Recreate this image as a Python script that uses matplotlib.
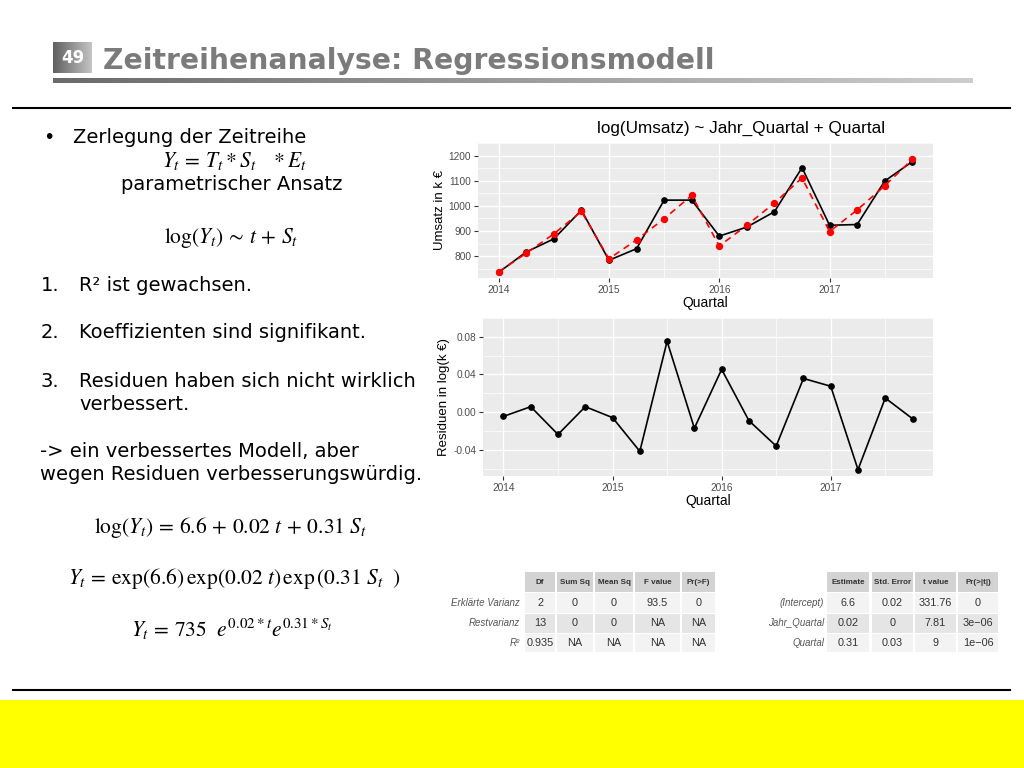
import numpy as np
import matplotlib
matplotlib.use("Agg")
import matplotlib.pyplot as plt
from matplotlib.patches import Rectangle
from matplotlib.lines import Line2D
from matplotlib.colors import LinearSegmentedColormap

# ---------------- data ----------------
time = [2014.00, 2014.25, 2014.50, 2014.75, 2015.00, 2015.25, 2015.50, 2015.75,
        2016.00, 2016.25, 2016.50, 2016.75, 2017.00, 2017.25, 2017.50, 2017.75]
umsatz = [736, 817, 869, 983, 784, 830, 1023, 1023, 880, 916, 977, 1152, 923, 926, 1099, 1176]
fitted = [738, 812, 889, 978, 790, 865, 949, 1042, 841, 923, 1012, 1111, 898, 984, 1080, 1185]
residuen = [-0.0045, 0.0058, -0.0237, 0.0058, -0.0058, -0.0416, 0.0752, -0.0170,
            0.0454, -0.0090, -0.0360, 0.0358, 0.0275, -0.0610, 0.0150, -0.0070]
year_ticks = [2014, 2015, 2016, 2017]
umsatz_ticks = [800, 900, 1000, 1100, 1200]
resid_ticks = [-0.04, 0.00, 0.04, 0.08]

anova_cols = ["Df", "Sum Sq", "Mean Sq", "F value", "Pr(>F)"]
anova_rows = ["Erklärte Varianz", "Restvarianz", "R²"]
anova_vals = [["2", "0", "0", "93.5", "0"],
              ["13", "0", "0", "NA", "NA"],
              ["0.935", "NA", "NA", "NA", "NA"]]
coef_cols = ["Estimate", "Std. Error", "t value", "Pr(>|t|)"]
coef_rows = ["(Intercept)", "Jahr_Quartal", "Quartal"]
coef_vals = [["6.6", "0.02", "331.76", "0"],
             ["0.02", "0", "7.81", "3e\u221206"],
             ["0.31", "0.03", "9", "1e\u221206"]]

# ---------------- setup ----------------
plt.rcParams['font.family'] = ['DejaVu Sans']
plt.rcParams['mathtext.fontset'] = 'stix'
W, H = 1024, 768
fig = plt.figure(figsize=(10.24, 7.68), dpi=100)
fig.patch.set_facecolor('white')


def fx(x):
    return x / W


def fy(y):
    return 1 - y / H


def box_axes(x0, y0, x1, y1):
    return fig.add_axes([fx(x0), fy(y1), (x1 - x0) / W, (y1 - y0) / H])


# ---------------- header ----------------
cm_box = LinearSegmentedColormap.from_list('b', ['#606060', '#c4c4c4'])
axb = box_axes(53, 42, 92, 73)
axb.imshow(np.linspace(0, 1, 100).reshape(1, -1), aspect='auto', cmap=cm_box,
           extent=[0, 1, 0, 1])
axb.axis('off')
fig.text(fx(72.5), fy(58), "49", color='white', fontsize=12, fontweight='bold',
         ha='center', va='center')
fig.text(fx(103), fy(69), "Zeitreihenanalyse: Regressionsmodell", color='#7b7b7b',
         fontsize=20.3, fontweight='bold', ha='left', va='baseline')
cm_bar = LinearSegmentedColormap.from_list('g', ['#6a6a6a', '#cdcdcd'])
axg = box_axes(53, 77.5, 973, 83.5)
axg.imshow(np.linspace(0, 1, 200).reshape(1, -1), aspect='auto', cmap=cm_bar,
           extent=[0, 1, 0, 1])
axg.axis('off')

fig.add_artist(Line2D([fx(13), fx(1010)], [fy(108), fy(108)], color='black', lw=1.5))
fig.add_artist(Line2D([fx(13), fx(1010)], [fy(690), fy(690)], color='black', lw=1.5))
fig.add_artist(Rectangle((0, 0), 1, fy(700), transform=fig.transFigure,
                         facecolor='#ffff00', edgecolor='none'))

# ---------------- left text ----------------
TS = 14
MS = 15.5
fig.text(fx(43), fy(143), "•", fontsize=TS, va='baseline')
fig.text(fx(73), fy(143), "Zerlegung der Zeitreihe", fontsize=TS, va='baseline')
fig.text(fx(235), fy(167), r"$Y_t\, =\, T_t * S_t\ \ \ * E_t$", fontsize=MS,
         ha='center', va='baseline')
fig.text(fx(231.5), fy(190), "parametrischer Ansatz", fontsize=TS, ha='center',
         va='baseline')
fig.text(fx(231), fy(243), r"$\log(Y_t)\, \sim\, t\, +\, S_t$", fontsize=MS,
         ha='center', va='baseline')
items = [("1.", "R² ist gewachsen.", 291),
         ("2.", "Koeffizienten sind signifikant.", 338),
         ("3.", "Residuen haben sich nicht wirklich", 387)]
for num, txt, yb in items:
    fig.text(fx(41), fy(yb), num, fontsize=TS, va='baseline')
    fig.text(fx(79), fy(yb), txt, fontsize=TS, va='baseline')
fig.text(fx(79), fy(410), "verbessert.", fontsize=TS, va='baseline')
fig.text(fx(40), fy(457), "-> ein verbessertes Modell, aber", fontsize=TS, va='baseline')
fig.text(fx(40), fy(480), "wegen Residuen verbesserungswürdig.", fontsize=TS,
         va='baseline')
fig.text(fx(230.5), fy(533),
         r"$\log(Y_t)\, =\, 6.6\, +\, 0.02\ t\, +\, 0.31\ S_t$", fontsize=MS,
         ha='center', va='baseline')
fig.text(fx(234), fy(584),
         r"$Y_t\, =\, \exp(6.6)\,\exp(0.02\ t)\,\exp\left(0.31\ S_t\ \ \right)$",
         fontsize=MS, ha='center', va='baseline')
fig.text(fx(231.5), fy(637), r"$Y_t\, =\, 735\ \ e^{0.02 * t}e^{0.31 * S_t}$",
         fontsize=MS, ha='center', va='baseline')

# ---------------- ggplot-like charts ----------------
GG = 'Liberation Sans'


def gg_style(ax, xmin, xmax, ymin, ymax, xt, yt, ylabels):
    ax.set_facecolor('#ebebeb')
    ex = 0.05 * (xmax - xmin)
    ey = 0.05 * (ymax - ymin)
    ax.set_xlim(xmin - ex, xmax + ex)
    ax.set_ylim(ymin - ey, ymax + ey)
    ax.set_xticks(xt)
    ax.set_xticklabels([str(v) for v in xt], family=GG)
    ax.set_xticks([v + 0.5 for v in xt], minor=True)
    ax.set_yticks(yt)
    ax.set_yticklabels(ylabels, family=GG)
    step = yt[1] - yt[0]
    ax.set_yticks([yt[0] - step / 2] + [v + step / 2 for v in yt], minor=True)
    ax.grid(which='major', color='white', lw=1.0)
    ax.grid(which='minor', color='white', lw=0.5)
    ax.set_axisbelow(True)
    for s in ax.spines.values():
        s.set_visible(False)
    ax.tick_params(which='major', length=3, width=0.8, color='#333333',
                   labelsize=7.3, labelcolor='#4d4d4d', pad=2)
    ax.tick_params(which='minor', length=0)


ax1 = box_axes(478, 143, 933, 278)
ymin1 = min(min(umsatz), min(fitted))
ymax1 = max(max(umsatz), max(fitted))
gg_style(ax1, min(time), max(time), ymin1, ymax1, year_ticks, umsatz_ticks,
         [str(v) for v in umsatz_ticks])
ax1.plot(time, umsatz, color='black', lw=1.2, marker='o', ms=3.8, zorder=3)
ax1.plot(time, fitted, color='#ff0000', lw=1.2, ls=(0, (4, 3)), marker='o', ms=4.3,
         zorder=4)
ax1.set_xlabel("Quartal", family=GG, fontsize=10, labelpad=1)
ax1.set_ylabel("Umsatz in k €", family=GG, fontsize=9.5, labelpad=2)
fig.text(fx(741), fy(128), "log(Umsatz) ~ Jahr_Quartal + Quartal", family=GG,
         fontsize=12.3, ha='center', va='center')

ax2 = box_axes(483, 318, 933, 476)
gg_style(ax2, min(time), max(time), min(residuen), max(residuen), year_ticks,
         resid_ticks, [f"{v:.2f}" for v in resid_ticks])
ax2.plot(time, residuen, color='black', lw=1.2, marker='o', ms=3.8, zorder=3)
ax2.set_xlabel("Quartal", family=GG, fontsize=10, labelpad=1)
ax2.set_ylabel("Residuen in log(k €)", family=GG, fontsize=9.5, labelpad=2)

# ---------------- tables ----------------
C_HEAD = '#d3d3d3'
C_ROW = ['#f3f3f3', '#e5e5e5', '#f3f3f3']
row_edges = [(572, 592), (593, 613), (614, 633), (634, 652)]


def draw_table(label_right, col_edges, cols, rows, vals):
    for j, (x0, x1) in enumerate(col_edges):
        y0, y1 = row_edges[0]
        fig.add_artist(Rectangle((fx(x0), fy(y1)), (x1 - x0) / W, (y1 - y0) / H,
                                 transform=fig.transFigure, facecolor=C_HEAD,
                                 edgecolor='none'))
        fig.text(fx((x0 + x1) / 2), fy((y0 + y1) / 2), cols[j], family=GG,
                 fontsize=5.8, fontweight='bold', color='#333333', ha='center',
                 va='center')
        for i in range(len(rows)):
            y0, y1 = row_edges[i + 1]
            fig.add_artist(Rectangle((fx(x0), fy(y1)), (x1 - x0) / W, (y1 - y0) / H,
                                     transform=fig.transFigure, facecolor=C_ROW[i],
                                     edgecolor='none'))
            fig.text(fx((x0 + x1) / 2), fy((y0 + y1) / 2), vals[i][j], family=GG,
                     fontsize=7.8, color='#333333', ha='center', va='center')
    for i, r in enumerate(rows):
        y0, y1 = row_edges[i + 1]
        fig.text(fx(label_right), fy((y0 + y1) / 2), r, family=GG, fontsize=7,
                 style='italic', color='#555555', ha='right', va='center')


draw_table(520, [(525, 555), (557, 593), (595, 633), (635, 680), (682, 715)],
           anova_cols, anova_rows, anova_vals)
draw_table(824, [(827, 869), (872, 913), (915, 956), (958, 998)],
           coef_cols, coef_rows, coef_vals)

fig.savefig("out.png", dpi=100)
